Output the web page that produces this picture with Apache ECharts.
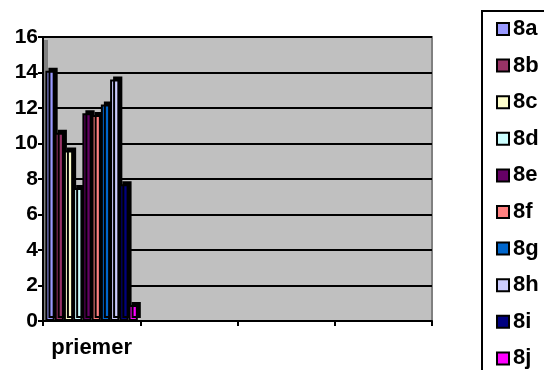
<!DOCTYPE html>
<html>
<head>
<meta charset="utf-8">
<script src="https://cdn.jsdelivr.net/npm/echarts@6/dist/echarts.min.js"></script>
<style>
  html, body { margin: 0; padding: 0; background: #fff; }
  #chart { width: 544px; height: 370px; }
</style>
</head>
<body>
<div id="chart"></div>
<script>
// categories on the x axis, only the first one has values
var categories = ["priemer", "", "", ""];
var seriesNames = ["8a", "8b", "8c", "8d", "8e", "8f", "8g", "8h", "8i", "8j"];
// one value per class for "priemer"
var priemerValues = [14.1, 10.6, 9.6, 7.5, 11.7, 11.6, 12.2, 13.6, 7.7, 0.9];
var yTicks = [0, 2, 4, 6, 8, 10, 12, 14, 16];

// old excel palette
var colors = ["#9999FF", "#993366", "#FFFFCC", "#CCFFFF", "#660066",
              "#FF8080", "#0066CC", "#CCCCFF", "#000080", "#FF00FF"];

var labelFont = "Liberation Sans";

var series = [];
for (var i = 0; i < seriesNames.length; i++) {
  series.push({
    name: seriesNames[i],
    type: "bar",
    barGap: "0%",
    barCategoryGap: "5%",
    data: [priemerValues[i], null, null, null],
    itemStyle: {
      color: colors[i],
      borderColor: "#000",
      borderWidth: 2,
      // fake 3d depth
      shadowColor: "#000",
      shadowBlur: 0,
      shadowOffsetX: 3,
      shadowOffsetY: -3
    },
    emphasis: { disabled: true },
    animation: false,
    z: 3
  });
}

var chart = echarts.init(document.getElementById("chart"), null, { renderer: "canvas" });

chart.setOption({
  animation: false,
  color: colors,
  grid: {
    left: 43,
    right: 112,
    top: 37,
    bottom: 49,
    show: true,
    backgroundColor: "#C0C0C0",
    borderColor: "#808080",
    borderWidth: 2
  },
  legend: {
    orient: "vertical",
    left: 491,
    top: 13,
    height: 400,
    itemWidth: 12,
    itemHeight: 12,
    itemGap: 14.6,
    icon: "rect",
    data: seriesNames,
    selectedMode: false,
    itemStyle: {
      borderColor: "#000",
      borderWidth: 2,
      shadowColor: "transparent",
      shadowOffsetX: 0,
      shadowOffsetY: 0
    },
    textStyle: {
      fontFamily: labelFont,
      fontWeight: "bold",
      fontSize: 22,
      color: "#000",
      padding: [0, 0, 0, -1]
    }
  },
  xAxis: {
    type: "category",
    data: categories,
    boundaryGap: true,
    axisLine: { lineStyle: { color: "#000", width: 2 } },
    axisTick: { show: true, interval: 0, length: 5, lineStyle: { color: "#000", width: 2 } },
    axisLabel: {
      interval: 0,
      margin: 16,
      fontFamily: labelFont,
      fontWeight: "bold",
      fontSize: 22,
      color: "#000"
    },
    splitLine: { show: false }
  },
  yAxis: {
    type: "value",
    min: yTicks[0],
    max: yTicks[yTicks.length - 1],
    interval: 2,
    axisLine: { show: true, lineStyle: { color: "#000", width: 2 } },
    axisTick: { show: true, length: 5, lineStyle: { color: "#000", width: 2 } },
    axisLabel: {
      margin: 5,
      fontFamily: labelFont,
      fontWeight: "bold",
      fontSize: 21,
      color: "#000"
    },
    splitLine: { show: true, lineStyle: { color: "#000", width: 2 } }
  },
  graphic: [
    // darker side wall of the 3d plot
    {
      type: "rect",
      z: 1,
      shape: { x: 44, y: 40, width: 4, height: 280 },
      style: { fill: "#808080" }
    },
    // legend frame, runs off the page on the right and bottom
    {
      type: "rect",
      z: 1,
      shape: { x: 482, y: 11, width: 80, height: 380 },
      style: { fill: "none", stroke: "#000", lineWidth: 2 }
    }
  ],
  series: series
});
</script>
</body>
</html>
